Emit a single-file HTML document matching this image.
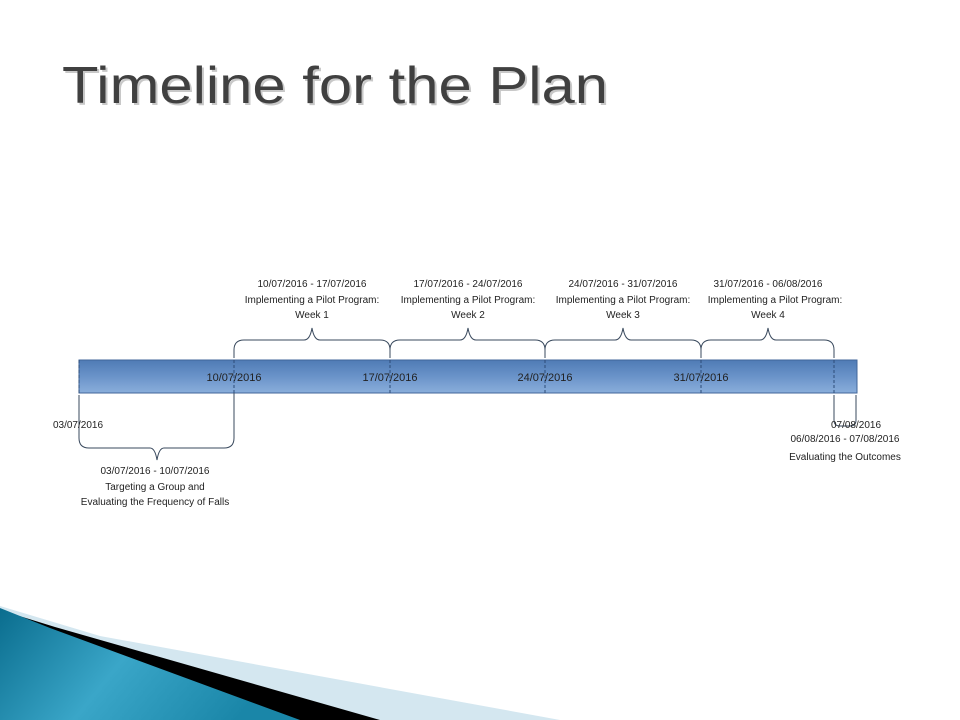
<!DOCTYPE html>
<html><head><meta charset="utf-8"><style>
html,body{margin:0;padding:0;background:#fff}
svg{display:block}
text{font-family:"Liberation Sans",sans-serif}
</style></head><body>
<svg width="960" height="720" viewBox="0 0 960 720" xmlns="http://www.w3.org/2000/svg">
<defs>
<linearGradient id="bar" x1="0" y1="0" x2="0" y2="1">
<stop offset="0" stop-color="#4f7bb5"/><stop offset="0.5" stop-color="#6a93c9"/><stop offset="1" stop-color="#8aaedb"/>
</linearGradient>
<linearGradient id="bl" x1="0" y1="0" x2="1" y2="0.3">
<stop offset="0" stop-color="#0a6d8e"/><stop offset="0.5" stop-color="#3aa6c8"/><stop offset="1" stop-color="#1a86a8"/>
</linearGradient>
</defs>
<text x="64" y="105" font-size="52" fill="#c8c8c8" textLength="546" lengthAdjust="spacingAndGlyphs">Timeline for the Plan</text>
<text x="62" y="103" font-size="52" fill="#404040" textLength="546" lengthAdjust="spacingAndGlyphs">Timeline for the Plan</text>

<!-- bottom decoration -->
<polygon points="560,720 100,636 0,606 0,720" fill="#d4e7f0"/>
<polygon points="380,720 55,627 0,610 0,720" fill="#000"/>
<polygon points="300,720 50,628 0,608 0,720" fill="url(#bl)"/>

<!-- bar -->
<rect x="79" y="360" width="778" height="33" fill="url(#bar)" stroke="#41669a" stroke-width="1"/>
<g stroke="#2d4c78" stroke-dasharray="3,2" stroke-width="1">
<line x1="79" y1="360" x2="79" y2="393"/>
<line x1="234" y1="360" x2="234" y2="393"/>
<line x1="390" y1="360" x2="390" y2="393"/>
<line x1="545" y1="360" x2="545" y2="393"/>
<line x1="701" y1="360" x2="701" y2="393"/>
<line x1="834" y1="360" x2="834" y2="393"/>
</g>
<g font-size="11" fill="#222" text-anchor="middle">
<text x="234" y="381">10/07/2016</text>
<text x="390" y="381">17/07/2016</text>
<text x="545" y="381">24/07/2016</text>
<text x="701" y="381">31/07/2016</text>
</g>

<!-- braces -->
<g fill="none" stroke="#3a4a5e" stroke-width="1">
<path d="M234,358 V350 Q234,340 244,340 H304 Q310,340 312,328 Q314,340 320,340 H380 Q390,340 390,350 V358"/>
<path d="M390,358 V350 Q390,340 400,340 H460 Q466,340 468,328 Q470,340 476,340 H535 Q545,340 545,350 V358"/>
<path d="M545,358 V350 Q545,340 555,340 H615 Q621,340 623,328 Q625,340 631,340 H691 Q701,340 701,350 V358"/>
<path d="M701,358 V350 Q701,340 711,340 H760 Q766,340 768,328 Q770,340 776,340 H824 Q834,340 834,350 V358"/>
<path d="M79,395 V438 Q79,448 89,448 H150 Q155,448 157,460 Q159,448 164,448 H224 Q234,448 234,438 V393"/>
<path d="M834,395 V420 Q834,426 840,426 H850 Q856,426 856,420 V395"/>
</g>

<g font-size="10" fill="#222" text-anchor="middle">
<text x="312" y="287">10/07/2016 - 17/07/2016</text>
<text x="312" y="303">Implementing a Pilot Program:</text>
<text x="312" y="318">Week 1</text>
<text x="468" y="287">17/07/2016 - 24/07/2016</text>
<text x="468" y="303">Implementing a Pilot Program:</text>
<text x="468" y="318">Week 2</text>
<text x="623" y="287">24/07/2016 - 31/07/2016</text>
<text x="623" y="303">Implementing a Pilot Program:</text>
<text x="623" y="318">Week 3</text>
<text x="768" y="287">31/07/2016 - 06/08/2016</text>
<text x="775" y="303">Implementing a Pilot Program:</text>
<text x="768" y="318">Week 4</text>
<text x="78" y="428">03/07/2016</text>
<text x="155" y="474">03/07/2016 - 10/07/2016</text>
<text x="155" y="490">Targeting a Group and</text>
<text x="155" y="505">Evaluating the Frequency of Falls</text>
<text x="856" y="428">07/08/2016</text>
<text x="845" y="442">06/08/2016 - 07/08/2016</text>
<text x="845" y="460">Evaluating the Outcomes</text>
</g>
</svg>
</body></html>
